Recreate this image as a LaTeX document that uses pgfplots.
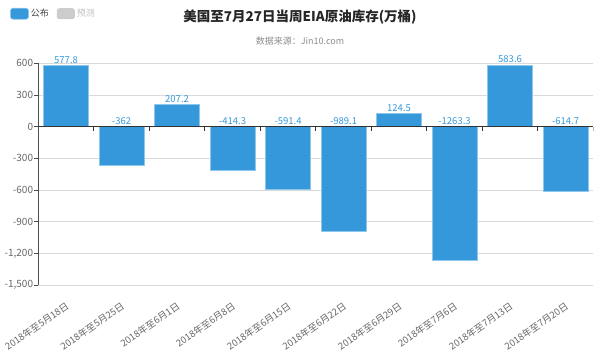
\documentclass[border=0pt]{standalone}
\usepackage{pgfplots}
\pgfplotsset{compat=1.18}
\usepackage{fontspec}
\setmainfont{Noto Sans CJK SC}
\definecolor{barblue}{RGB}{52,152,219}
\definecolor{tickgray}{RGB}{102,102,102}
\definecolor{gridgray}{RGB}{217,217,217}
\begin{document}
\begin{tikzpicture}[x=1pt,y=1pt]
\useasboundingbox (0,0) rectangle (600,353);
\node[font=\fontsize{13.5}{16}\selectfont\bfseries, text=black!85] at (300,336) {美国至7月27日当周EIA原油库存(万桶)};
\node[font=\fontsize{9}{11}\selectfont, text=black!45] at (300,312) {数据来源：Jin10.com};
\begin{axis}[
  at={(38.3pt,68pt)}, anchor=south west, scale only axis,
  width=555pt, height=221.7pt,
  xmin=-0.5, xmax=9.5, ymin=-1500, ymax=600,
  ytick={-1500,-1200,-900,-600,-300,0,300,600},
  xtick={0,...,9},
  xticklabels={2018年至5月18日,2018年至5月25日,2018年至6月1日,2018年至6月8日,2018年至6月15日,2018年至6月22日,2018年至6月29日,2018年至7月6日,2018年至7月13日,2018年至7月20日},
  axis y line*=left, axis x line*=bottom,
  x axis line style={draw=none},
  y axis line style={black!70, line width=0.8pt},
  xtick style={draw=none},
  ytick style={black!70, line width=0.8pt},
  tick align=outside, major tick length=4pt,
  ymajorgrids, major grid style={gridgray, line width=0.8pt},
  /pgf/number format/assume math mode=true,
  /pgf/number format/1000 sep={,},
  yticklabel style={font=\fontsize{10}{12}\selectfont, text=tickgray, inner sep=1pt},
  xticklabel style={yshift=-12pt, xshift=-1pt, font=\fontsize{9.5}{11}\selectfont, text=tickgray, rotate=35, anchor=north east, inner sep=0pt},
  legend style={at={(0,1)}, anchor=north west, xshift=-28.3pt, yshift=56.3pt, draw=none, fill=none, inner sep=0pt, legend columns=2, font=\fontsize{9}{11}\selectfont, /tikz/every even column/.append style={column sep=6pt}},
  legend image code/.code={\fill[#1, rounded corners=2.5pt] (0pt,-5.5pt) rectangle (18pt,5.5pt);},
]
\addplot[ybar, bar width=0.81, bar shift=0pt, fill=barblue, draw=barblue!55!white, line width=0.6pt]
  coordinates {(0,577.8) (1,-362) (2,207.2) (3,-414.3) (4,-591.4) (5,-989.1) (6,124.5) (7,-1263.3) (8,583.6) (9,-614.7)};
\addlegendentry{\textcolor{black!75}{公布}}
\addlegendimage{fill=black!20, draw=none}
\addlegendentry{\textcolor{black!25}{预测}}
\addplot[draw=none, mark=none, forget plot, nodes near coords, point meta=explicit symbolic,
  nodes near coords style={font=\fontsize{9.5}{11}\selectfont, text=barblue, anchor=south, inner sep=2pt}]
  table[meta=l] {
x y l
0 577.8 577.8
1 0 -362
2 207.2 207.2
3 0 -414.3
4 0 -591.4
5 0 -989.1
6 124.5 124.5
7 0 -1263.3
8 583.6 583.6
9 0 -614.7
};
\draw[black!80, line width=0.8pt] (axis cs:-0.5,0) -- (axis cs:9.5,0);
\pgfplotsinvokeforeach{0.5,1.5,2.5,3.5,4.5,5.5,6.5,7.5,8.5,9.5}{
  \draw[black!80, line width=0.8pt] (axis cs:#1,0) -- ([yshift=-4pt]axis cs:#1,0);
}
\end{axis}
\end{tikzpicture}
\end{document}
